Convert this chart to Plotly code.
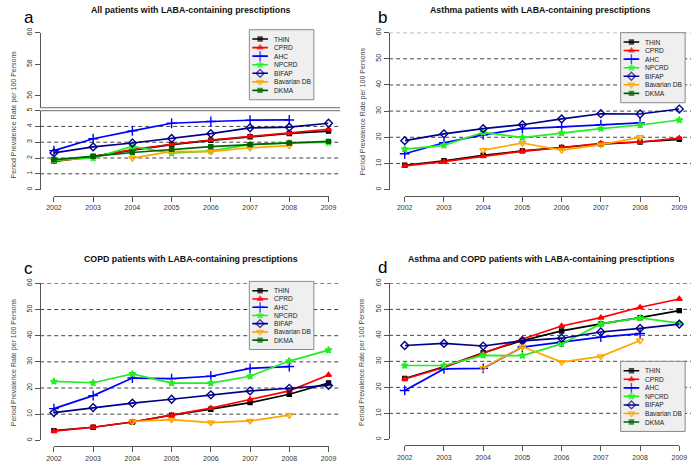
import plotly.graph_objects as go

W, H = 700, 466
FONT = "Liberation Sans, Arial, sans-serif"
AX = "#555555"

years = [2002, 2003, 2004, 2005, 2006, 2007, 2008, 2009]
series_names = ["THIN", "CPRD", "AHC", "NPCRD", "BIFAP", "Bavarian DB", "DKMA"]
ticks_full = [0, 10, 20, 30, 40, 50, 60]
ticks_low_a = [0, 1, 2, 3, 4, 5]
ticks_high_a = [56, 58, 60]
grid_a = [1, 2, 3, 4]
grid_full = [10, 20, 30, 40, 50, 60]

all_patients = {
    "THIN":        [1.80, 2.10, 2.50, 2.85, 3.12, 3.35, 3.55, 3.70],
    "CPRD":        [1.78, 2.07, 2.53, 2.87, 3.14, 3.37, 3.56, 3.82],
    "AHC":         [2.47, 3.22, 3.72, 4.20, 4.31, 4.39, 4.41, None],
    "NPCRD":       [1.85, 2.00, 2.74, 2.30, 2.45, 2.85, 2.95, 2.98],
    "BIFAP":       [2.32, 2.70, 2.95, 3.24, 3.54, 3.91, 3.95, 4.20],
    "Bavarian DB": [None, None, 1.99, 2.42, 2.40, 2.65, 2.78, None],
    "DKMA":        [1.90, 2.10, 2.35, 2.55, 2.72, 2.85, 2.95, 3.05],
}
asthma = {
    "THIN":        [9.3, 11.0, 13.1, 14.8, 16.1, 17.4, 18.2, 19.2],
    "CPRD":        [9.1, 10.7, 12.7, 14.6, 16.1, 17.7, 18.2, 19.7],
    "AHC":         [13.7, 17.9, 20.9, 23.3, 24.0, 24.8, 25.5, None],
    "NPCRD":       [15.5, 16.9, 21.9, 19.9, 21.6, 23.3, 24.7, 26.6],
    "BIFAP":       [18.7, 21.3, 23.3, 24.8, 27.0, 29.0, 28.9, 30.8],
    "Bavarian DB": [None, None, 15.1, 17.8, 15.1, 17.2, 20.0, None],
    "DKMA":        [None] * 8,
}
copd = {
    "THIN":        [3.7, 5.0, 7.0, 9.6, 11.9, 14.4, 17.6, 21.9],
    "CPRD":        [3.5, 5.0, 7.0, 9.6, 12.3, 15.6, 18.9, 25.0],
    "AHC":         [12.1, 17.1, 23.8, 23.6, 24.5, 27.5, 28.2, None],
    "NPCRD":       [22.5, 22.0, 25.4, 21.9, 21.9, 24.5, 30.3, 34.5],
    "BIFAP":       [10.6, 12.5, 14.2, 15.7, 17.4, 18.9, 19.9, 21.0],
    "Bavarian DB": [None, None, 7.2, 7.9, 6.8, 7.4, 9.6, None],
    "DKMA":        [None] * 8,
}
asthma_copd = {
    "THIN":        [23.4, 27.9, 33.3, 38.0, 41.7, 44.4, 46.8, 49.5],
    "CPRD":        [23.2, 27.7, 33.1, 38.6, 43.6, 46.8, 50.8, 54.0],
    "AHC":         [18.8, 27.1, 27.3, 35.5, 37.4, 39.3, 40.7, None],
    "NPCRD":       [28.4, 28.4, 32.3, 32.2, 36.7, 44.4, 46.7, 44.7],
    "BIFAP":       [36.1, 36.9, 35.9, 37.9, 38.9, 41.3, 42.7, 44.3],
    "Bavarian DB": [None, None, 27.4, 35.6, 29.7, 31.9, 38.0, None],
    "DKMA":        [None] * 8,
}

styles = {
    "THIN":        dict(color="#000000", symbol="square", size=4),
    "CPRD":        dict(color="#ff0000", symbol="triangle-up", size=5),
    "AHC":         dict(color="#0000ff", symbol="cross-thin", size=7),
    "NPCRD":       dict(color="#22ee22", symbol="star", size=5),
    "BIFAP":       dict(color="#00008b", symbol="diamond-open", size=6),
    "Bavarian DB": dict(color="#ffa500", symbol="triangle-down-open", size=6),
    "DKMA":        dict(color="#006400", symbol="square", size=4),
}


def fx(p):
    return p / W


def fy(p):
    return 1 - p / H


panels = [
    dict(data=all_patients, title="All patients with LABA-containing presctiptions", letter="a",
         axis_x=33, x0=47, x1=328, grid_r=340, y_zero=187, y_top=107, yr=[0, 5],
         yticks=ticks_low_a, grid=grid_a, title_xy=(187, 5), letter_xy=(21, 13),
         ytitle_xy=(6, 111), box=(247, 25, 313, 96)),
    dict(data=asthma, title="Asthma patients with LABA-containing presctiptions", letter="b",
         axis_x=390, x0=406, x1=687, grid_r=699, y_zero=187, y_top=28, yr=[0, 60],
         yticks=ticks_full, grid=grid_full, title_xy=(545, 5), letter_xy=(383, 13),
         ytitle_xy=(363, 108), box=(627, 28, 693, 99)),
    dict(data=copd, title="COPD patients with LABA-containing presctiptions", letter="c",
         axis_x=33, x0=47, x1=328, grid_r=340, y_zero=441, y_top=282, yr=[0, 60],
         yticks=ticks_full, grid=grid_full, title_xy=(187, 257), letter_xy=(21, 267),
         ytitle_xy=(6, 362), box=(247, 280, 313, 349)),
    dict(data=asthma_copd, title="Asthma and COPD patients with LABA-containing presctiptions", letter="d",
         axis_x=390, x0=406, x1=687, grid_r=699, y_zero=440, y_top=282, yr=[0, 60],
         yticks=ticks_full, grid=grid_full, title_xy=(545, 257), letter_xy=(383, 266),
         ytitle_xy=(363, 362), box=(627, 361, 693, 432)),
]

fig = go.Figure()
layout = dict(
    width=W, height=H, margin=dict(l=0, r=0, t=0, b=0),
    paper_bgcolor="white", plot_bgcolor="rgba(0,0,0,0)",
    showlegend=False, font=dict(family=FONT, color="#333333"),
)
shapes = []
annotations = []

tickfont = dict(family=FONT, size=7, color="#333333")

for i, p in enumerate(panels):
    n = i + 1
    xs = "" if n == 1 else str(n)
    xid, yid = "x" + xs, "y" + xs
    layout["xaxis" + xs] = dict(
        domain=[fx(p["x0"]), fx(p["x1"])], range=[2002, 2009], anchor="free",
        position=fy(p["y_zero"] + 6), showline=True, linecolor=AX, linewidth=1,
        ticks="outside", ticklen=5, tickcolor=AX, tickwidth=1, tickvals=years,
        ticktext=[str(y) for y in years], tickfont=tickfont, showgrid=False,
        zeroline=False, fixedrange=True)
    layout["yaxis" + xs] = dict(
        domain=[fy(p["y_zero"]), fy(p["y_top"])], range=p["yr"], anchor="free",
        position=fx(p["axis_x"]), showline=True, linecolor=AX, linewidth=1,
        ticks="outside", ticklen=5, tickcolor=AX, tickwidth=1, tickvals=p["yticks"],
        tickangle=-90, tickfont=tickfont, showgrid=False, zeroline=False, fixedrange=True)

    # dashed reference lines across the plot region
    for g in p["grid"]:
        shapes.append(dict(type="line", xref="paper", yref=yid, x0=fx(p["axis_x"]),
                           x1=fx(p["grid_r"]), y0=g, y1=g, layer="below",
                           line=dict(color="#444444", width=1, dash="4px,3px")))

    # data
    for name in series_names:
        s = styles[name]
        fig.add_trace(go.Scatter(
            x=years, y=p["data"][name], xaxis=xid, yaxis=yid, mode="lines+markers",
            name=name, cliponaxis=False,
            line=dict(color=s["color"], width=1.7),
            marker=dict(color=s["color"], symbol=s["symbol"], size=s["size"],
                        line=dict(color=s["color"], width=1.4))))

    # titles
    annotations.append(dict(text="<b>" + p["title"] + "</b>", xref="paper", yref="paper",
                            x=fx(p["title_xy"][0]), y=fy(p["title_xy"][1]), showarrow=False,
                            xanchor="center", yanchor="middle",
                            font=dict(family=FONT, size=8.8, color="#111111")))
    annotations.append(dict(text=p["letter"], xref="paper", yref="paper",
                            x=fx(p["letter_xy"][0]), y=fy(p["letter_xy"][1]), showarrow=False,
                            xanchor="center", yanchor="middle",
                            font=dict(family=FONT, size=17, color="#000000")))
    annotations.append(dict(text="Period Prevalence Rate per 100 Persons", xref="paper", yref="paper",
                            x=fx(p["ytitle_xy"][0]), y=fy(p["ytitle_xy"][1]), showarrow=False,
                            textangle=-90, xanchor="center", yanchor="middle",
                            font=dict(family=FONT, size=7, color="#444444")))

    # legend box
    bx0, by0, bx1, by1 = p["box"]
    bw, bh = bx1 - bx0, by1 - by0
    shapes.append(dict(type="rect", xref="paper", yref="paper", x0=fx(bx0), x1=fx(bx1),
                       y0=fy(by1), y1=fy(by0), layer="below", fillcolor="#efefef",
                       line=dict(color="#8a8a8a", width=1)))
    ln = 4 + n
    lx, ly = "x" + str(ln), "y" + str(ln)
    layout["xaxis" + str(ln)] = dict(domain=[fx(bx0), fx(bx1)], range=[0, bw], visible=False,
                                      anchor=ly, fixedrange=True)
    layout["yaxis" + str(ln)] = dict(domain=[fy(by1), fy(by0)], range=[bh, 0], visible=False,
                                      anchor=lx, fixedrange=True)
    first = 9.5
    step = (bh - 2 * first) / (len(series_names) - 1)
    for k, name in enumerate(series_names):
        s = styles[name]
        yy = first + k * step
        fig.add_trace(go.Scatter(
            x=[3, 11, 19], y=[yy, yy, yy], xaxis=lx, yaxis=ly, mode="lines+markers",
            hoverinfo="skip", cliponaxis=False,
            line=dict(color=s["color"], width=1.6),
            marker=dict(color=s["color"], symbol=s["symbol"], size=[0, s["size"], 0],
                        line=dict(color=s["color"], width=1.4))))
        annotations.append(dict(text=name, xref=lx, yref=ly, x=23, y=yy, showarrow=False,
                                xanchor="left", yanchor="middle",
                                font=dict(family=FONT, size=6.6, color="#222222")))

# panel a: upper segment of the broken axis
layout["yaxis9"] = dict(domain=[fy(104), fy(28)], range=[55.25, 60], anchor="free",
                        position=fx(33), showline=True, linecolor=AX, linewidth=1,
                        ticks="outside", ticklen=5, tickcolor=AX, tickwidth=1,
                        tickvals=ticks_high_a, tickangle=-90, tickfont=tickfont,
                        showgrid=False, zeroline=False, fixedrange=True)
fig.add_trace(go.Scatter(x=[None], y=[None], xaxis="x", yaxis="y9", mode="lines",
                         hoverinfo="skip"))
for yb in (104, 107):
    shapes.append(dict(type="line", xref="paper", yref="paper", x0=fx(33), x1=fx(340),
                       y0=fy(yb), y1=fy(yb), line=dict(color="#888888", width=1.2)))

layout["shapes"] = shapes
layout["annotations"] = annotations
fig.update_layout(**layout)
fig.write_html(
    "out.html",
    config={"displayModeBar": False},
    post_script="document.body.style.margin='0';document.body.style.padding='0';"
                "document.body.style.overflow='hidden';",
)
